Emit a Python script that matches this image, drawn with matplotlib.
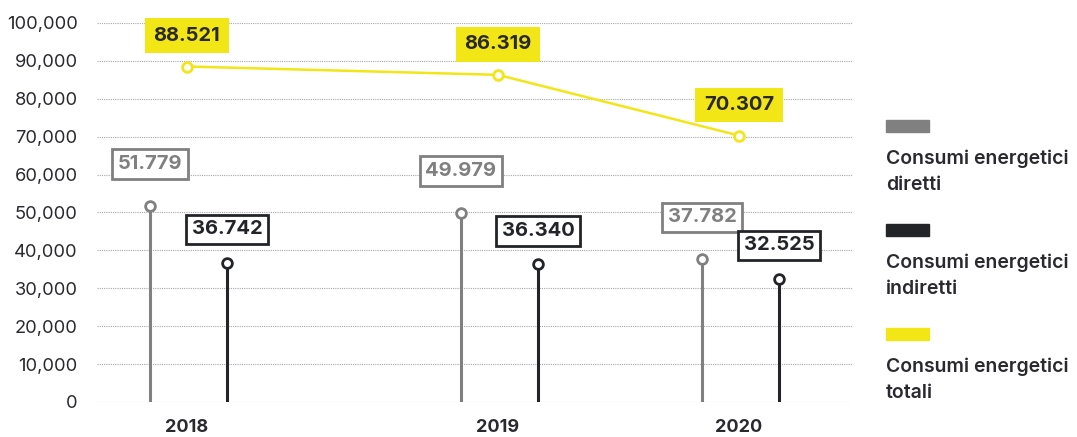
import matplotlib.pyplot as plt
from matplotlib.patches import Rectangle
from matplotlib.ticker import FuncFormatter

plt.rcParams['font.family'] = ['Inter', 'DejaVu Sans']

# energy consumption per year
years = ["2018", "2019", "2020"]
diretti = [51779, 49979, 37782]
indiretti = [36742, 36340, 32525]
totali = [88521, 86319, 70307]
labels_diretti = ["51.779", "49.979", "37.782"]
labels_indiretti = ["36.742", "36.340", "32.525"]
labels_totali = ["88.521", "86.319", "70.307"]
legend_names = ["Consumi energetici\ndiretti", "Consumi energetici\nindiretti",
                "Consumi energetici\ntotali"]

GREY = "#808080"
BLACK = "#232428"
YELLOW = "#f2e617"
TEXT = "#2a2a2e"

# horizontal layout (pixel-like x units)
xpos = [187, 498, 739]
off_d, off_i = -37, 40

fig = plt.figure(figsize=(10.77, 4.37), dpi=100)
ax = fig.add_axes([97 / 1077, 35 / 437, (853 - 97) / 1077, (402 - 23) / 437])
ax.set_xlim(97, 853)
ax.set_ylim(0, 100000)

ax.set_yticks(range(0, 100001, 10000))
ax.yaxis.set_major_formatter(FuncFormatter(lambda v, p: f"{int(v):,}"))
ax.tick_params(axis="y", length=0, pad=14, labelsize=13.2, labelcolor=TEXT)
ax.set_xticks(xpos)
ax.set_xticklabels(years, fontweight="bold", fontsize=13, color=TEXT)
ax.tick_params(axis="x", length=0, pad=12)
for s in ax.spines.values():
    s.set_visible(False)
ax.grid(axis="y", color="#a8a8a8", linestyle=(0, (1, 1)), linewidth=0.8)
ax.set_axisbelow(True)

for i, x in enumerate(xpos):
    xd, xi = x + off_d, x + off_i
    ax.plot([xd, xd], [0, diretti[i]], color=GREY, lw=2.2, zorder=3)
    ax.plot(xd, diretti[i], "o", ms=7, mfc="white", mec=GREY, mew=2, zorder=4)
    ax.annotate(labels_diretti[i], (xd, diretti[i]), xytext=(0, 30),
                textcoords="offset points", ha="center", va="center",
                fontsize=14.5, fontweight="bold", color=GREY,
                bbox=dict(boxstyle="square,pad=0.28", fc="white", ec=GREY, lw=2))
    ax.plot([xi, xi], [0, indiretti[i]], color=BLACK, lw=2.2, zorder=3)
    ax.plot(xi, indiretti[i], "o", ms=7, mfc="white", mec=BLACK, mew=2, zorder=4)
    ax.annotate(labels_indiretti[i], (xi, indiretti[i]), xytext=(0, 24),
                textcoords="offset points", ha="center", va="center",
                fontsize=14.5, fontweight="bold", color=BLACK,
                bbox=dict(boxstyle="square,pad=0.28", fc="white", ec=BLACK, lw=2))

ax.plot(xpos, totali, color=YELLOW, lw=1.8, zorder=3)
ax.plot(xpos, totali, "o", ms=7, mfc="white", mec=YELLOW, mew=2, zorder=4)
for i, x in enumerate(xpos):
    ax.annotate(labels_totali[i], (x, totali[i]), xytext=(0, 22),
                textcoords="offset points", ha="center", va="center",
                fontsize=14.5, fontweight="bold", color=TEXT,
                bbox=dict(boxstyle="square,pad=0.42", fc=YELLOW, ec=YELLOW, lw=0))

# legend drawn by hand on the right
W, H = 1077, 437
for k, (c, name) in enumerate(zip([GREY, BLACK, YELLOW], legend_names)):
    top = 120 + k * 104
    fig.patches.append(Rectangle((886 / W, 1 - (top + 12) / H), 43 / W, 12 / H,
                                 transform=fig.transFigure, color=c))
    fig.text(886 / W, 1 - (top + 30) / H, name, ha="left", va="top",
             fontsize=14, fontweight="semibold", color=TEXT, linespacing=1.55)

fig.savefig("out.png", dpi=100)
